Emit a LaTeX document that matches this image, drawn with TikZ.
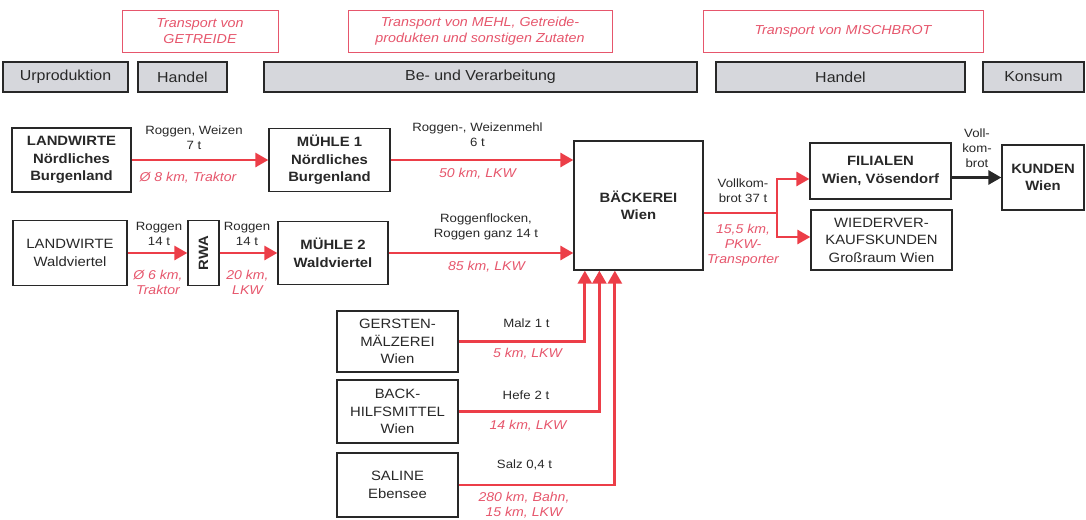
\documentclass[tikz,border=0pt]{standalone}
\usepackage{fontspec}
\setmainfont{Liberation Sans}[FakeStretch=1.1]
\usepackage{tikz}
\usetikzlibrary{calc,arrows.meta}
\definecolor{flowred}{RGB}{236,62,72}
\definecolor{notered}{RGB}{230,86,108}
\definecolor{barfill}{RGB}{214,215,220}
\definecolor{ink}{RGB}{40,40,40}
\tikzset{zbox/.style={
  draw=ink,
  line width=1.3,
  fill=white,
  text=ink,
  align=center,
  inner sep=0pt,
  font=\fontsize{13.5}{17.5}\selectfont}}
\tikzset{zbold/.style={
  zbox,
  font=\bfseries\fontsize{13.5}{17.5}\selectfont}}
\tikzset{zstage/.style={
  draw=ink,
  line width=1.3,
  fill=barfill,
  text=ink,
  inner sep=0pt,
  minimum height=30,
  font=\fontsize{14.5}{15}\selectfont}}
\tikzset{ztransport/.style={
  draw=notered,
  line width=.8,
  text=notered,
  align=center,
  inner sep=0pt,
  minimum height=42,
  font=\itshape\fontsize{13}{15.5}\selectfont}}
\tikzset{zflow/.style={
  draw=flowred,
  line width=2.8,
  -{Triangle[length=13,width=14]}}}

\begin{document}
\begin{tikzpicture}[x=1pt,y=-1pt,
  zqty/.style={
    text=ink,
    align=center,
    inner sep=0pt,
    font=\fontsize{12}{15}\selectfont},
  zroute/.style={
    text=notered,
    align=center,
    inner sep=0pt,
    font=\itshape\fontsize{12.8}{15}\selectfont},
  zfeed/.style={
    draw=ink,
    line width=2.8,
    -{Triangle[length=13,width=14]}}
]
  \useasboundingbox (0,0) rectangle (1086,519);

  %%%% Transport headings and stages %%%%
  \node[ztransport,minimum width=156] (tgetreide) at (200,31) {Transport von\\GETREIDE};
  \node[ztransport,minimum width=264] (tmehl) at (480,31) {Transport von MEHL, Getreide-\\produkten und sonstigen Zutaten};
  \node[ztransport,minimum width=280] (tbrot) at (843,31) {Transport von MISCHBROT};

  \node[zstage,minimum width=125] (urprod) at (65.5,77) {Urproduktion};
  \node[zstage,minimum width=89] (handel1) at (182.5,77) {Handel};
  \node[zstage,minimum width=433] (verarb) at (480.5,77) {Be- und Verarbeitung};
  \node[zstage,minimum width=249] (handel2) at (840.5,77) {Handel};
  \node[zstage,minimum width=101] (konsum) at (1033.5,77) {Konsum};

  %%%% Boxes %%%%
  %% Getreide
  \node[zbold,minimum width=119,minimum height=64] (land1) at (71.5,160) {LANDWIRTE\\Nördliches\\Burgenland};
  \node[zbold,minimum width=121,minimum height=63] (muehle1) at (329.5,160) {MÜHLE 1\\Nördliches\\Burgenland};
  \node[zbox,minimum width=114,minimum height=65] (land2) at (70,253) {LANDWIRTE\\Waldviertel};
  \node[zbold,minimum width=31,minimum height=65] (rwa) at (203.5,253) {\rotatebox{90}{RWA}};
  \node[zbold,minimum width=110,minimum height=63] (muehle2) at (333,253) {MÜHLE 2\\Waldviertel};
  %% Bäckerei and Zutaten
  \node[zbold,minimum width=129,minimum height=129] (baeckerei) at (638.5,205.5) {BÄCKEREI\\Wien};
  \node[zbox,minimum width=121,minimum height=61] (maelz) at (397.5,341.5) {GERSTEN-\\MÄLZEREI\\Wien};
  \node[zbox,minimum width=121,minimum height=63] (hilfs) at (397.5,411.5) {BACK-\\HILFSMITTEL\\Wien};
  \node[zbox,minimum width=121,minimum height=64] (saline) at (397.5,485) {SALINE\\Ebensee};
  %% Handel and Konsum
  \node[zbold,minimum width=141,minimum height=56] (filialen) at (880.5,171) {FILIALEN\\Wien, Vösendorf};
  \node[zbox,minimum width=141,minimum height=60] (wieder) at (881.5,240) {WIEDERVER-\\KAUFSKUNDEN\\Großraum Wien};
  \node[zbold,minimum width=82,minimum height=65] (kunden) at (1043,177.5) {KUNDEN\\Wien};

  %%%% Flows %%%%
  \draw[zflow] (land1.east) -- (muehle1.west);
  \node[zqty] (q1) at (194,137.5) {Roggen, Weizen\\7 t};
  \node[zroute] (r1) at (188,178) {Ø 8 km, Traktor};

  \draw[zflow] (land2.east) -- (rwa.west);
  \node[zqty] (q2) at (159,234) {Roggen\\14 t};
  \node[zroute] (r2) at (158,282) {Ø 6 km,\\Traktor};

  \draw[zflow] (rwa.east) -- (muehle2.west);
  \node[zqty] (q3) at (247,234) {Roggen\\14 t};
  \node[zroute] (r3) at (247.5,282) {20 km,\\LKW};

  \draw[zflow] (muehle1.east) -- (muehle1.east -| baeckerei.west);
  \node[zqty] (q4) at (477.5,135) {Roggen-, Weizenmehl\\6 t};
  \node[zroute] (r4) at (477.5,174) {50 km, LKW};

  \draw[zflow] (muehle2.east) -- (muehle2.east -| baeckerei.west);
  \node[zqty] (q5) at (486,226.5) {Roggenflocken,\\Roggen ganz 14 t};
  \node[zroute] (r5) at (486.5,267) {85 km,\hspace{4pt}LKW};

  %% Zutaten from below
  \coordinate (in1) at ($(baeckerei.south west)+(11.5,0)$);
  \coordinate (in2) at ($(baeckerei.south west)+(26,0)$);
  \coordinate (in3) at ($(baeckerei.south west)+(41.5,0)$);
  \draw[zflow] (maelz.east) -| (in1);
  \draw[zflow] (hilfs.east) -| (in2);
  \draw[zflow] (saline.east) -| (in3);
  \node[zqty] (q6) at (526.5,323) {Malz 1 t};
  \node[zroute] (r6) at (527.5,354) {5 km, LKW};
  \node[zqty] (q7) at (526,395) {Hefe\hspace{4pt}2 t};
  \node[zroute] (r7) at (528,426) {14 km, LKW};
  \node[zqty] (q8) at (524.5,465) {Salz 0,4 t};
  \node[zroute] (r8) at (524,505.5) {280 km,\hspace{4pt}Bahn,\\15 km,\hspace{4pt}LKW};

  %% Vollkornbrot
  \coordinate (split) at (777,213);
  \draw[zflow] (baeckerei.east |- split) -- (split) |- ([yshift=-8pt]filialen.west);
  \draw[zflow] (baeckerei.east |- split) -- (split) |- ([yshift=3pt]wieder.west);
  \node[zqty] (q9) at (743,190.5) {Vollkom-\\brot 37 t};
  \node[zroute] (r9) at (743,245.5) {15,5 km,\\PKW-\\Transporter};

  \draw[zfeed] (filialen.east |- kunden.west) -- (kunden.west);
  \node[zqty] (q10) at (977,148) {Voll-\\kom-\\brot};

\end{tikzpicture}
\end{document}
